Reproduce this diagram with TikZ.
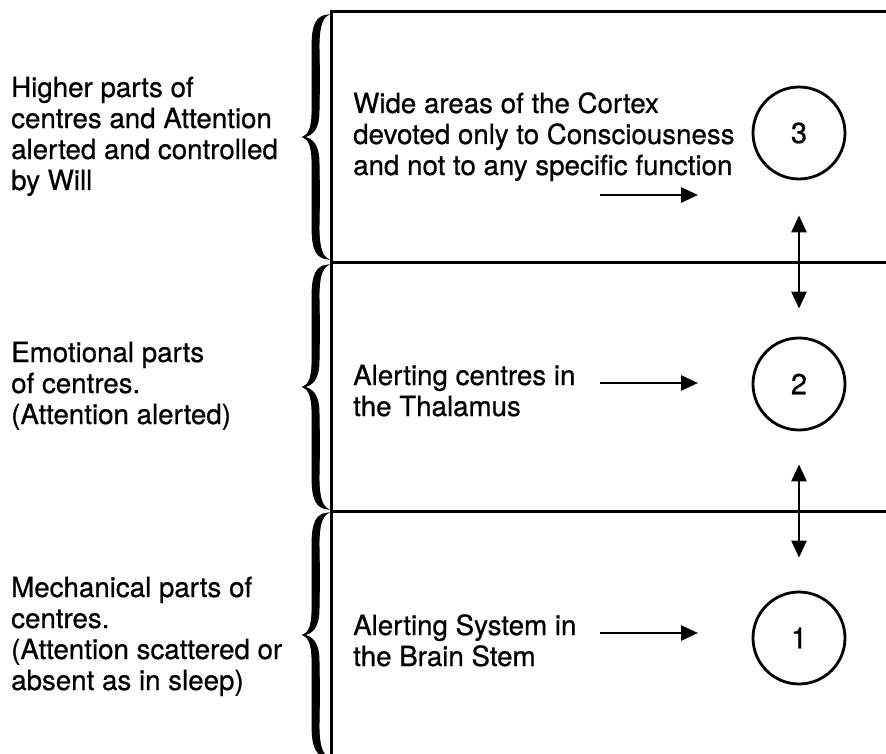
\documentclass[tikz,border=0pt]{standalone}
\usepackage{fontspec}
\setmainfont{TeX Gyre Heros}[FakeBold=0.7]
\usetikzlibrary{arrows.meta}
\tikzset{
  brc/.pic={
    \filldraw[line width=0.9pt]
      (25,0) .. controls (14,1) and (9,8) .. (9,32) -- (9,97)
      .. controls (9,114) and (5,120) .. (0,122)
      .. controls (5,124) and (9,130) .. (9,147) -- (9,212)
      .. controls (9,236) and (14,243) .. (25,244)
      .. controls (19,241) and (16,232) .. (16,212)
      .. controls (16.5,190) and (16.5,170) .. (16,147)
      .. controls (16,130) and (9,123) .. (0,122)
      .. controls (9,121) and (16,114) .. (16,97)
      .. controls (16.5,74) and (16.5,54) .. (16,32)
      .. controls (16,12) and (19,3) .. (25,0) -- cycle;
  }
}
\begin{document}
\begin{tikzpicture}[x=1pt,y=-1pt,
  txt/.style={anchor=base west, inner sep=0pt, align=left, font=\fontsize{27.7}{31}\selectfont},
  numc/.style={circle, draw, line width=2.8pt, minimum size=92pt, inner sep=0pt, font=\fontsize{29}{31}\selectfont},
  arr/.style={line width=2.8pt, -{Triangle[length=17pt,width=15pt]}},
  dbl/.style={line width=2.8pt, {Triangle[length=17pt,width=15pt]}-{Triangle[length=17pt,width=15pt]}},
  frame/.style={line width=3pt}
]
\useasboundingbox (0,0) rectangle (886,754);
\begin{scope}
\clip (0,0) rectangle (886,754);
% frame
\draw[frame] (886,12) -- (331,12) -- (331,760);
\draw[frame] (331,262) -- (886,262);
\draw[frame] (331,511) -- (886,511);
% braces
\pic at (303,15) {brc};
\pic at (303,265) {brc};
\pic at (303,513) {brc};
\end{scope}
% left texts (anchor at baseline of last line)
\node[txt] (l3) at (11,190) {Higher parts of\\centres and Attention\\alerted and controlled\\by Will};
\node[txt] (l2) at (11,424) {Emotional parts\\of centres.\\(Attention alerted)};
\node[txt] (l1) at (11,690) {Mechanical parts of\\centres.\\(Attention scattered or\\absent as in sleep)};
% middle texts
\node[txt] (m3) at (353,175) {Wide areas of the Cortex\\devoted only to Consciousness\\and not to any specific function};
\node[txt] (m2) at (353,416) {Alerting centres in\\the Thalamus};
\node[txt] (m1) at (353,666) {Alerting System in\\the Brain Stem};
% circles
\node[numc] (c3) at (799,133) {3};
\node[numc] (c2) at (799,384) {2};
\node[numc] (c1) at (799,638) {1};
% arrows
\coordinate (a3s) at (600,195); \coordinate (a3e) at (698,195);
\coordinate (a2s) at (600,383); \coordinate (a2e) at (698,383);
\coordinate (a1s) at (600,633); \coordinate (a1e) at (698,633);
\draw[arr] (a3s) -- (a3e);
\draw[arr] (a2s) -- (a2e);
\draw[arr] (a1s) -- (a1e);
\draw[dbl, shorten <=35pt, shorten >=28pt] (c3) -- (c2);
\draw[dbl, shorten <=33pt, shorten >=33pt] (c2) -- (c1);
\end{tikzpicture}
\end{document}
